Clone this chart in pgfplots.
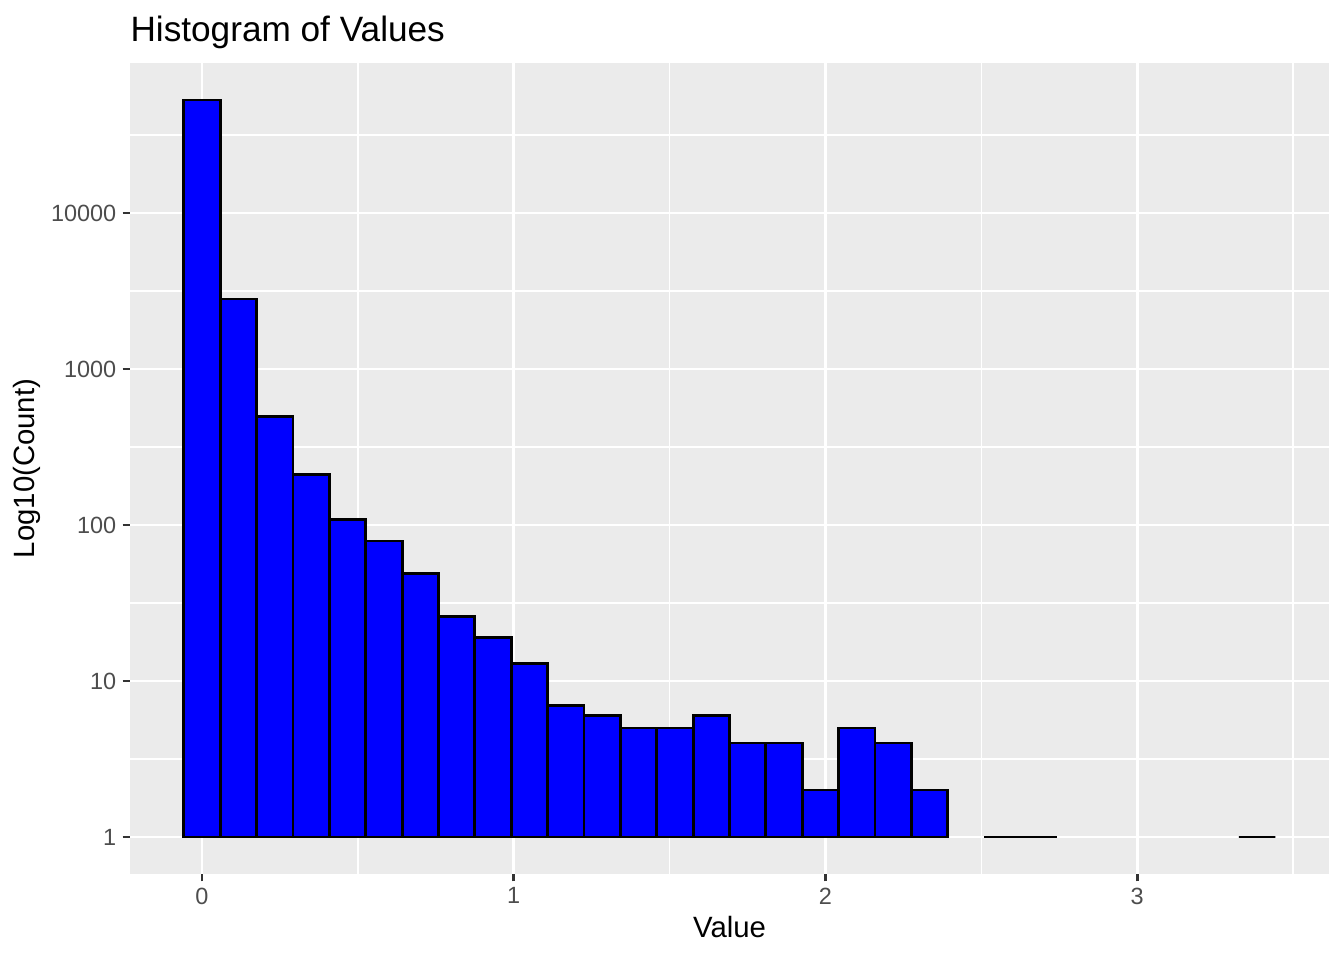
\documentclass[border=0pt]{standalone}
\usepackage{pgfplots}
\pgfplotsset{compat=1.18}
\usepackage{fontspec}
\setmainfont{Liberation Sans}
\definecolor{panelbg}{HTML}{EBEBEB}
\definecolor{ticktext}{HTML}{4D4D4D}
\definecolor{tickmark}{HTML}{333333}
\begin{document}
\begin{tikzpicture}
\path[use as bounding box] (0,0) rectangle (504pt,360pt);
\begin{axis}[
  at={(48.75pt,32.25pt)}, anchor=south west,
  scale only axis, width=449.625pt, height=304.125pt,
  ymode=log, log origin=0,
  xmin=-0.2310, xmax=3.6157,
  ymin=0.5790, ymax=91530,
  axis background/.style={fill=panelbg},
  axis line style={draw=none},
  xtick={0,1,2,3}, xticklabels={0,1,2,3},
  ytick={1,10,100,1000,10000}, yticklabels={1,10,100,1000,10000},
  minor xtick={0.5,1.5,2.5,3.5},
  minor ytick={3.1623,31.623,316.23,3162.3,31623},
  xtick pos=bottom, ytick pos=left,
  tick align=outside,
  major tick length=2.75pt, minor tick length=0pt,
  major tick style={color=tickmark, line width=1.07pt},
  grid=both,
  major grid style={white, line width=1.07pt},
  minor grid style={white, line width=0.53pt},
  ticklabel style={font=\fontsize{8.8}{10}\selectfont, text=ticktext},
  xticklabel style={inner sep=0pt, yshift=-2.2pt},
  yticklabel style={inner sep=0pt, xshift=-2.2pt},
  clip=false,
]
\addplot[ybar, bar width=0.11672, bar shift=0pt, fill=blue, draw=black, line width=1.07pt]
coordinates {
(0.00000,53000) (0.11672,2810) (0.23344,495) (0.35016,210) (0.46688,109)
(0.58360,79) (0.70032,49) (0.81704,26) (0.93376,19) (1.05048,13)
(1.16720,7) (1.28392,6) (1.40064,5) (1.51736,5) (1.63408,6)
(1.75080,4) (1.86752,4) (1.98424,2) (2.10096,5) (2.21768,4)
(2.33440,2) (2.56784,1) (2.68456,1) (3.38488,1)
};
\end{axis}
\node[anchor=base west, inner sep=0pt, font=\fontsize{13.2}{15}\selectfont] at (48.75pt,344.6pt) {Histogram of Values};
\node[anchor=base, inner sep=0pt, font=\fontsize{11}{13}\selectfont] at (273.6pt,8.6pt) {Value};
\node[rotate=90, anchor=center, inner sep=0pt, font=\fontsize{11}{13}\selectfont] at (10.1pt,184.3pt) {Log10(Count)};
\end{tikzpicture}
\end{document}
